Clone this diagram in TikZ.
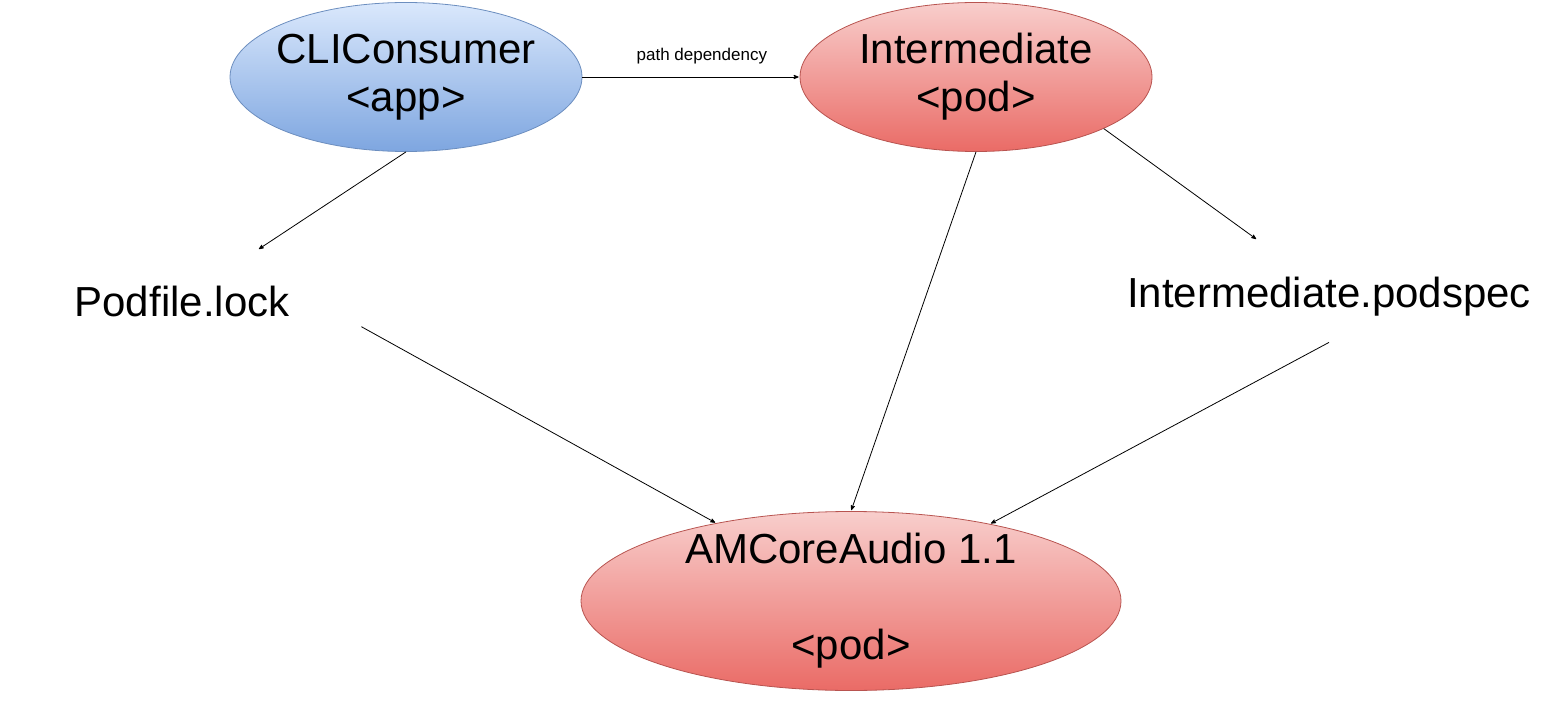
\documentclass[tikz,border=0pt]{standalone}
\usepackage{fontspec}
\setmainfont{Liberation Sans}
\usepackage{tikz}
\usetikzlibrary{arrows,calc,positioning,shapes.geometric}

\definecolor{appfill}{HTML}{DAE8FC}
\definecolor{appshade}{HTML}{7EA6E0}
\definecolor{appline}{HTML}{6C8EBF}
\definecolor{podfill}{HTML}{F8CECC}
\definecolor{podshade}{HTML}{EA6B66}
\definecolor{podline}{HTML}{B85450}

\begin{document}
\begin{tikzpicture}[x=1pt,y=1pt,>=stealth',shorten >=1pt,line width=0.8pt]
%   CLIConsumer ----path dependency----> Intermediate
%       |                               |          |
%       v                               |          v
%   Podfile.lock                        |   Intermediate.podspec
%            \                          v         /
%             -------------------> AMCoreAudio <--
    \tikzstyle{every node}=[font=\fontsize{42}{48}\selectfont, align=center]
    \tikzstyle{app}=[ellipse, draw=appline, top color=appfill, bottom color=appshade, minimum width=352pt, minimum height=149pt, inner xsep=-6pt, inner ysep=0pt]
    \tikzstyle{pod}=[ellipse, draw=podline, top color=podfill, bottom color=podshade, minimum width=352pt, minimum height=149pt, inner xsep=-6pt, inner ysep=0pt]
    \tikzstyle{file}=[minimum height=102pt, inner sep=0pt]
    \useasboundingbox (0,0) rectangle (1557,716);

    \node[app] (cli) at (406,639) {CLIConsumer\\<app>};
    \node[pod, right of=cli, node distance=570pt] (inter) {Intermediate\\<pod>};
    % Files
    \node[file, minimum width=358pt] (lock) at (182,415) {Podfile.lock};
    \node[file, minimum width=404pt, text height=42pt] (podspec) at (1329,425) {Intermediate.podspec};
    % Bottom pod
    \node[pod, minimum width=540pt, minimum height=179pt, inner ysep=-5pt] (amc) at (851,115) {AMCoreAudio 1.1\\[48pt]<pod>};

    \path[->] (cli) edge node[above=13pt, inner sep=0pt, pos=0.55, font=\fontsize{17}{20}\selectfont] {path dependency} (inter);

    \path[->] (cli.south) edge ([xshift=76pt]lock.north)
              ($(lock.north east)!.75!(lock.south east)$) edge (amc.150);

    \path[->] (inter.south) edge (amc.north)
              (inter.-22) edge ([xshift=-72pt]podspec.north)
              (podspec.south) edge (amc.29);
\end{tikzpicture}
\end{document}
